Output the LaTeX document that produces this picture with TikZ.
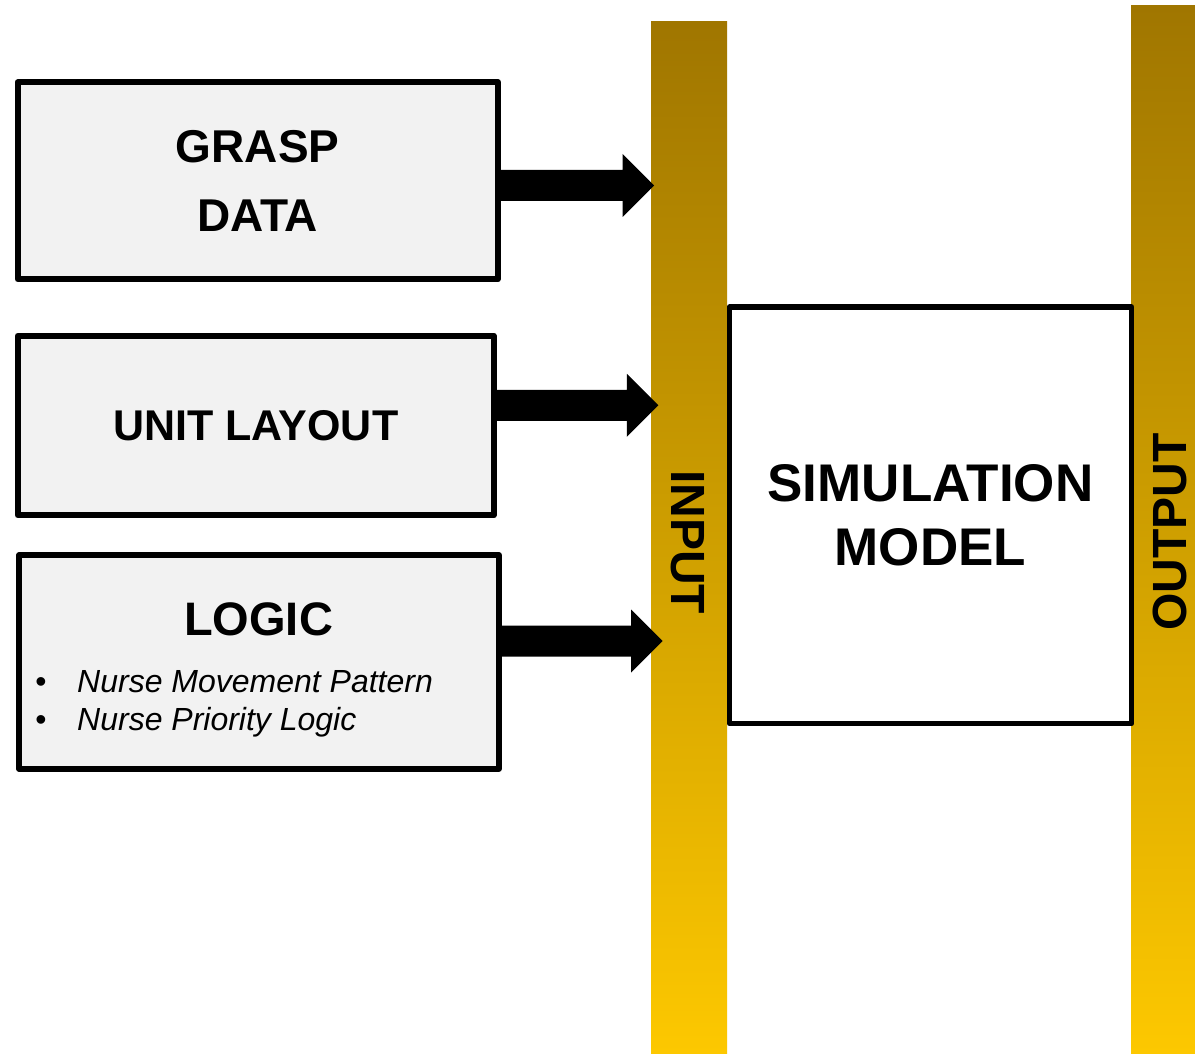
\documentclass[tikz,border=0pt]{standalone}
\usepackage{fontspec}
\setmainfont{Liberation Sans}
\usetikzlibrary{calc}
\definecolor{barTop}{HTML}{A07600}
\definecolor{barBot}{HTML}{FDC800}
\definecolor{boxFill}{HTML}{F2F2F2}
\newcommand{\fatarrow}[2]{%
  \coordinate (#2s) at (#1.east |- #2);
  \fill[arrowfill] ($(#2s)+(0,-15.5)$) -- ($(#2)+(-31.5,-15.5)$) -- ($(#2)+(-31.5,-31.5)$) -- (#2) -- ($(#2)+(-31.5,31.5)$) -- ($(#2)+(-31.5,15.5)$) -- ($(#2s)+(0,15.5)$) -- cycle;}
\begin{document}
\begin{tikzpicture}[x=1pt,y=-1pt,
  bar/.style={draw=none, inner sep=0pt, top color=barTop, bottom color=barBot},
  inbox/.style={draw=black, line width=6pt, fill=boxFill, inner sep=0pt, line join=round},
  simbox/.style={draw=black, line width=5.5pt, fill=white, inner sep=0pt, line join=round},
  bartext/.style={font=\fontsize{48}{56}\selectfont\bfseries, inner sep=0pt},
  arrowfill/.style={fill=black},
  bullettext/.style={anchor=base west, inner sep=0pt, font=\fontsize{32}{37}\selectfont\itshape},
  bulletdot/.style={anchor=base, inner sep=0pt, font=\fontsize{32}{37}\selectfont}]
\useasboundingbox (0,0) rectangle (1195,1054);
\fill[white] (0,0) rectangle (1195,1054);
% bars
\node[bar, minimum width=76pt, minimum height=1032pt] (inbar) at (689,538) {};
\node[bar, minimum width=64pt, minimum height=1048pt] (outbar) at (1163,530) {};
% simulation model
\node[simbox, minimum width=402pt, minimum height=416.5pt, align=center,
  font=\fontsize{53}{64}\selectfont\bfseries] (sim) at (930.5,515.25) {SIMULATION\\MODEL};
% left boxes
\node[inbox, minimum width=480pt, minimum height=197pt, align=center,
  font=\fontsize{46}{69}\selectfont\bfseries] (grasp) at (257.7,180.8) {GRASP\\DATA};
\node[inbox, minimum width=476pt, minimum height=179.6pt,
  font=\fontsize{43}{50}\selectfont\bfseries] (unit) at (255.7,425.5) {UNIT LAYOUT};
\node[inbox, minimum width=479.7pt, minimum height=213.4pt] (logic) at (258.85,662) {};
\node[inner sep=0pt, font=\fontsize{47}{56}\selectfont\bfseries] (logictitle) at (258.5,619) {LOGIC};
\node[bulletdot] (d1) at (41,692.7) {•};
\node[bullettext] (b1) at (77,692.7) {Nurse Movement Pattern};
\node[bulletdot] (d2) at (41,730) {•};
\node[bullettext] (b2) at (77,730) {Nurse Priority Logic};
% arrows
\coordinate (t1) at (654,185.5);
\coordinate (t2) at (658.3,405.3);
\coordinate (t3) at (662.7,641);
\fatarrow{grasp}{t1}
\fatarrow{unit}{t2}
\fatarrow{logic}{t3}
% bar labels
\node[bartext, rotate=-90] (inlabel) at (688,542) {INPUT};
\node[bartext, rotate=90] (outlabel) at (1170,532) {OUTPUT};
\end{tikzpicture}
\end{document}
